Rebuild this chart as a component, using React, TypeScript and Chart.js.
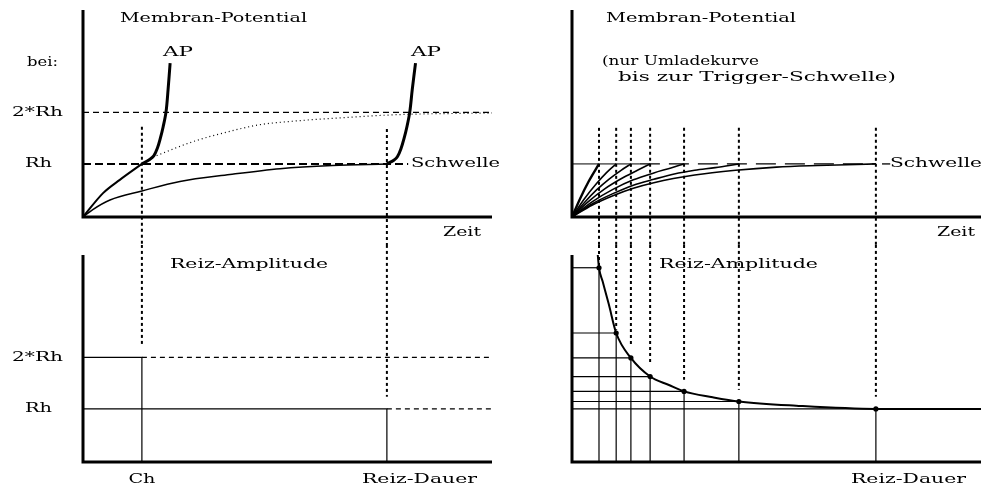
import React, { useEffect, useRef } from "react";
import { Chart, registerables } from "chart.js";
Chart.register(...registerables);

// ---------------- data (time units 0..100 along the time axis, potential / amplitude in Rh units) ----------------
type P = [number, number];

const T_MAX = 100;
const V_MAX = 3.9;
const RH = 1.0;
const TWO_RH = 1.97;
const CHRONAXIE = 14.4;
const LONG_DURATION = 74.3;

// left top panel: charging curves and action potentials
const apFastRise: P[] = [[0, 0], [4.9, 0.45], [9, 0.7], [14.4, 1.0]];
const apFastSpike: P[] = [[14.4, 1.0], [16.2, 1.08], [17.3, 1.15], [18.2, 1.3], [18.9, 1.48], [19.6, 1.7], [20.3, 1.98], [20.8, 2.4], [21.3, 2.9]];
const fastContinuation: P[] = [[17.1, 1.13], [26.9, 1.42], [35.2, 1.6], [43.3, 1.74], [50.6, 1.8], [65.3, 1.88], [77.5, 1.93], [100, 1.96]];
const slowCharge: P[] = [[0, 0], [2.4, 0.14], [6.6, 0.32], [14.4, 0.49], [23.7, 0.67], [35.9, 0.8], [48.2, 0.91], [61, 0.97], [74.3, 1.0]];
const apSlowSpike: P[] = [[74.3, 1.0], [76.0, 1.07], [76.9, 1.14], [77.8, 1.3], [78.5, 1.48], [79.2, 1.7], [79.9, 1.98], [80.5, 2.4], [81.3, 2.9]];

// right panels: stimulus durations / amplitudes (strength-duration curve)
const stimDurations = [6.6, 10.8, 14.4, 19.1, 27.4, 40.8, 74.3];
const stimAmplitudes = [3.66, 2.43, 1.96, 1.61, 1.33, 1.14, 1.0];
const dottedStops = [3.66, 2.49, 2.17, 1.83, 1.55, 1.36, 1.23];
const chargeCurves: P[][] = [
  [[0, 0], [2, 0.35], [4, 0.66], [6.6, 1.0]],
  [[0, 0], [3, 0.34], [6, 0.63], [8.5, 0.84], [10.8, 1.0]],
  [[0, 0], [3, 0.27], [6, 0.51], [9, 0.71], [12, 0.88], [14.4, 1.0]],
  [[0, 0], [4, 0.29], [8, 0.53], [12, 0.72], [16, 0.88], [19.1, 1.0]],
  [[0, 0], [5, 0.29], [10, 0.52], [15, 0.7], [20, 0.83], [24, 0.92], [27.4, 1.0]],
  [[0, 0], [5, 0.25], [10, 0.44], [15, 0.6], [20, 0.71], [25, 0.81], [30, 0.88], [35, 0.93], [40.8, 1.0]],
  [[0, 0], [5, 0.225], [10, 0.4], [15, 0.54], [20, 0.645], [30, 0.79], [40, 0.88], [50, 0.94], [60, 0.97], [74.3, 1.0]],
];
const strengthDuration: P[] = [[6.3, 3.9], [6.6, 3.66], [7.5, 3.4], [9.0, 2.97], [10.8, 2.43], [14.4, 1.96], [19.1, 1.61], [23.7, 1.45], [27.4, 1.33], [34.4, 1.22], [40.8, 1.14], [54.8, 1.06], [74.3, 1.0], [100, 1.0]];

// ---------------- helpers ----------------
const pts = (a: P[]) => a.map(([x, y]) => ({ x, y }));
function line(a: P[], width = 1.5, dash: number[] = [], extra: any = {}) {
  return {
    data: pts(a),
    borderColor: "#000",
    backgroundColor: "#000",
    borderWidth: width,
    borderDash: dash,
    pointRadius: 0,
    fill: false,
    tension: 0,
    clip: false,
    ...extra,
  };
}
const axes = () =>
  line([[0, V_MAX], [0, 0], [T_MAX, 0]], 3, [], { borderJoinStyle: "miter", borderCapStyle: "butt" });

type Label = { text: string; x?: number; y?: number; dataX?: number; dataY?: number; w: number };

const FONT = "13px 'DejaVu Serif'";
function textPlugin(labels: Label[]) {
  return {
    id: "panelText",
    afterDraw(chart: any) {
      const ctx = chart.ctx as CanvasRenderingContext2D;
      ctx.save();
      ctx.fillStyle = "#000";
      ctx.font = FONT;
      ctx.textBaseline = "middle";
      for (const l of labels) {
        const m = ctx.measureText(l.text).width;
        let x = l.x ?? 0;
        if (l.dataX !== undefined) x = chart.scales.x.getPixelForValue(l.dataX) - l.w / 2;
        const y = l.dataY !== undefined ? chart.scales.y.getPixelForValue(l.dataY) : (l.y ?? 0);
        ctx.save();
        ctx.translate(x, y);
        ctx.scale(l.w / m, 1);
        ctx.fillText(l.text, 0, 0);
        ctx.restore();
      }
      ctx.restore();
    },
  };
}

function makeConfig(datasets: any[], padding: any, labels: Label[]) {
  return {
    type: "line",
    data: { datasets },
    options: {
      animation: false,
      responsive: false,
      devicePixelRatio: 1,
      events: [],
      layout: { padding },
      scales: {
        x: { type: "linear", min: 0, max: T_MAX, display: false },
        y: { type: "linear", min: 0, max: V_MAX, display: false },
      },
      plugins: { legend: { display: false }, tooltip: { enabled: false }, title: { display: false } },
    },
    plugins: [textPlugin(labels)],
  } as any;
}

const DOT: number[] = [3, 3];
const DOT_W = 2;

function topLeft() {
  const ds = [
    axes(),
    line([[0, TWO_RH], [T_MAX, TWO_RH]], 1.2, [6, 4]),
    line([[0, RH], [79.5, RH]], 2, [8, 4]),
    line([[CHRONAXIE, 1.7], [CHRONAXIE, -0.53]], DOT_W, DOT),
    line([[LONG_DURATION, 1.66], [LONG_DURATION, -0.53]], DOT_W, DOT),
    line(fastContinuation, 1.2, [1, 3], { cubicInterpolationMode: "monotone" }),
    line(apFastRise, 2, [], { cubicInterpolationMode: "monotone" }),
    line(apFastSpike, 3, [], { tension: 0.35 }),
    line(slowCharge, 1.5, [], { cubicInterpolationMode: "monotone" }),
    line(apSlowSpike, 3, [], { tension: 0.35 }),
  ];
  const labels: Label[] = [
    { text: "Membran-Potential", x: 120, y: 19, w: 187 },
    { text: "bei:", x: 27, y: 63, w: 31 },
    { text: "2*Rh", x: 12, dataY: TWO_RH, w: 51 },
    { text: "Rh", x: 25, dataY: RH, w: 27 },
    { text: "AP", x: 163, y: 53, w: 30 },
    { text: "AP", x: 411, y: 53, w: 30 },
    { text: "Schwelle", x: 411, dataY: RH, w: 89 },
    { text: "Zeit", x: 443, y: 233, w: 38 },
  ];
  return makeConfig(ds, { left: 83, right: 28, top: 10, bottom: 28 }, labels);
}

function bottomLeft() {
  const ds = [
    axes(),
    line([[0, TWO_RH], [CHRONAXIE, TWO_RH], [CHRONAXIE, 0]], 1.2),
    line([[0, RH], [LONG_DURATION, RH], [LONG_DURATION, 0]], 1.2),
    line([[CHRONAXIE, TWO_RH], [T_MAX, TWO_RH]], 1.2, [5, 4]),
    line([[LONG_DURATION, RH], [T_MAX, RH]], 1.2, [5, 4]),
    line([[CHRONAXIE, 4.09], [CHRONAXIE, 2.2]], DOT_W, DOT),
    line([[LONG_DURATION, 4.09], [LONG_DURATION, 1.23]], DOT_W, DOT),
  ];
  const labels: Label[] = [
    { text: "Reiz-Amplitude", x: 170, y: 20, w: 158 },
    { text: "2*Rh", x: 12, dataY: TWO_RH, w: 51 },
    { text: "Rh", x: 25, dataY: RH, w: 27 },
    { text: "Ch", dataX: CHRONAXIE, y: 235, w: 27 },
    { text: "Reiz-Dauer", x: 362, y: 235, w: 115 },
  ];
  return makeConfig(ds, { left: 83, right: 4, top: 10, bottom: 27 }, labels);
}

function topRight() {
  const ds: any[] = [
    axes(),
    line([[0, RH], [16.6, RH]], 1),
    line([[16.6, RH], [LONG_DURATION, RH]], 1.3, [20, 9]),
    line([[75.8, RH], [77.8, RH]], 1.3),
  ];
  stimDurations.forEach((t) => ds.push(line([[t, 1.68], [t, -0.53]], DOT_W, DOT)));
  chargeCurves.forEach((c, i) =>
    ds.push(line(c, i === 0 ? 2.4 : 1.6, [], { cubicInterpolationMode: "monotone" }))
  );
  const labels: Label[] = [
    { text: "Membran-Potential", x: 110, y: 19, w: 190 },
    { text: "(nur Umladekurve", x: 106, y: 62, w: 157 },
    { text: "bis zur Trigger-Schwelle)", x: 122, y: 78, w: 278 },
    { text: "Schwelle", x: 394, dataY: RH, w: 92 },
    { text: "Zeit", x: 441, y: 233, w: 38 },
  ];
  return makeConfig(ds, { left: 76, right: 11, top: 10, bottom: 28 }, labels);
}

function bottomRight() {
  const ds: any[] = [axes()];
  stimDurations.forEach((t, i) => {
    const a = stimAmplitudes[i];
    ds.push(line([[t, 0], [t, a]], 1.2));
    ds.push(line([[0, a], [t, a]], 1.2));
    ds.push(line([[t, 4.09], [t, dottedStops[i]]], DOT_W, DOT));
  });
  ds.push(line(strengthDuration, 2, [], { cubicInterpolationMode: "monotone" }));
  ds.push({
    data: stimDurations.map((t, i) => ({ x: t, y: stimAmplitudes[i] })),
    showLine: false,
    pointRadius: 2.6,
    pointStyle: "circle",
    pointBackgroundColor: "#000",
    pointBorderColor: "#000",
    borderWidth: 0,
    clip: false,
  });
  const labels: Label[] = [
    { text: "Reiz-Amplitude", x: 163, y: 20, w: 159 },
    { text: "Reiz-Dauer", x: 355, y: 235, w: 115 },
  ];
  return makeConfig(ds, { left: 76, right: 11, top: 10, bottom: 27 }, labels);
}

function Panel(props: { left: number; top: number; width: number; height: number; build: () => any }) {
  const ref = useRef<HTMLCanvasElement>(null);
  useEffect(() => {
    const chart = new Chart(ref.current as HTMLCanvasElement, props.build());
    return () => chart.destroy();
  }, []);
  return (
    <canvas
      ref={ref}
      width={props.width}
      height={props.height}
      style={{ position: "absolute", left: props.left, top: props.top, width: props.width, height: props.height, display: "block" }}
    />
  );
}

export default function App() {
  return (
    <div style={{ position: "absolute", left: 0, top: 0, width: 992, height: 489, background: "#fff", overflow: "hidden" }}>
      <Panel left={0} top={0} width={520} height={245} build={topLeft} />
      <Panel left={496} top={0} width={496} height={245} build={topRight} />
      <Panel left={0} top={245} width={496} height={244} build={bottomLeft} />
      <Panel left={496} top={245} width={496} height={244} build={bottomRight} />
    </div>
  );
}
